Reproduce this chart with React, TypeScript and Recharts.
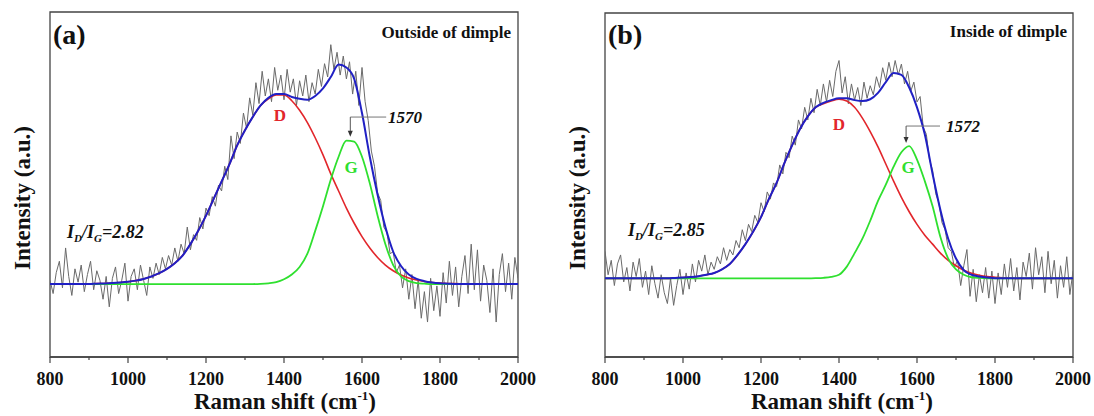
import React from "react";
import { LineChart, Line, XAxis, YAxis, ReferenceArea, ReferenceLine, ReferenceDot } from "recharts";

const SERIF = "'Liberation Serif', 'Times New Roman', serif";

// x grids (cm-1): raw spectra every 8, fitted curves every 20
const X_START = 800;
const RAW_STEP = 8;
const FIT_STEP = 20;
const MAJOR_TICKS = [800, 1000, 1200, 1400, 1600, 1800, 2000];
const ALL_TICKS = [800, 900, 1000, 1100, 1200, 1300, 1400, 1500, 1600, 1700, 1800, 1900, 2000];

// (a) outside of dimple, measured spectrum
const rawA = [
  0.02, -0.05, 0.06, 0.12, -0.02, 0.19, 0.04, -0.06, 0.08, 0.01,
  0.10, -0.04, 0.05, 0.12, -0.03, 0.07, 0.02, -0.08, 0.04, -0.12,
  0.03, 0.09, -0.05, 0.02, 0.11, -0.09, 0.04, 0.08, -0.03, 0.10,
  0.02, -0.06, 0.09, 0.03, 0.11, 0.05, 0.14, 0.08, 0.15, 0.10,
  0.19, 0.12, 0.21, 0.16, 0.30, 0.18, 0.26, 0.23, 0.35, 0.29,
  0.40, 0.36, 0.46, 0.41, 0.52, 0.49, 0.62, 0.55, 0.78, 0.66,
  0.80, 0.74, 0.90, 0.82, 0.98, 0.89, 1.06, 0.95, 1.12, 0.99,
  1.08, 0.96, 1.14, 1.02, 1.10, 0.97, 1.13, 1.01, 1.08, 0.94,
  1.07, 0.99, 1.10, 0.96, 1.06, 1.00, 1.13, 1.04, 1.16, 1.09,
  1.26, 1.13, 1.22, 1.10, 1.20, 1.08, 1.17, 1.00, 1.12, 0.94,
  1.14, 0.96, 0.86, 0.70, 0.62, 0.48, 0.44, 0.30, 0.27, 0.16,
  0.17, 0.06, 0.10, -0.02, 0.08, -0.08, 0.05, -0.13, 0.02, -0.18,
  -0.04, -0.20, 0.03, -0.14, -0.01, -0.17, 0.06, -0.10, 0.12, -0.06,
  0.09, -0.12, 0.04, 0.15, -0.05, 0.21, -0.03, 0.18, -0.09, 0.10,
  0.02, -0.15, 0.08, -0.20, 0.05, 0.16, -0.04, 0.11, -0.08, 0.14,
  0.03,
];
const dBandA = [
  0, 0, 0, 0, 0, 0, 0.002, 0.003, 0.005, 0.008,
  0.012, 0.018, 0.027, 0.04, 0.057, 0.08, 0.11, 0.15, 0.21, 0.28,
  0.36, 0.45, 0.54, 0.63, 0.73, 0.81, 0.88, 0.94, 0.975, 0.995,
  0.995, 0.965, 0.915, 0.85, 0.77, 0.68, 0.58, 0.49, 0.4, 0.32,
  0.25, 0.19, 0.14, 0.1, 0.07, 0.048, 0.032, 0.021, 0.013, 0.008,
  0.005, 0.003, 0.002, 0.001, 0, 0, 0, 0, 0, 0,
  0,
];
const gBandA = [
  0, 0, 0, 0, 0, 0, 0, 0, 0, 0,
  0, 0, 0, 0, 0, 0, 0, 0, 0, 0,
  0, 0, 0, 0, 0, 0, 0, 0.001, 0.004, 0.01,
  0.025, 0.05, 0.09, 0.16, 0.28, 0.41, 0.55, 0.67, 0.755, 0.75,
  0.67, 0.53, 0.36, 0.21, 0.1, 0.04, 0.015, 0.005, 0.002, 0,
  0, 0, 0, 0, 0, 0, 0, 0, 0, 0,
  0,
];
const fitA = [
  0, 0, 0, 0, 0, 0, 0.002, 0.003, 0.005, 0.008,
  0.012, 0.018, 0.027, 0.04, 0.057, 0.08, 0.11, 0.15, 0.21, 0.28,
  0.36, 0.45, 0.54, 0.63, 0.73, 0.81, 0.88, 0.94, 0.98, 1.0,
  1.0, 0.985, 0.975, 0.97, 0.99, 1.03, 1.09, 1.155, 1.14, 1.08,
  0.9, 0.67, 0.47, 0.3, 0.17, 0.095, 0.05, 0.027, 0.015, 0.008,
  0.004, 0.002, 0, 0, 0, 0, 0, 0, 0, 0,
  0,
];

// (b) inside of dimple
const rawB = [
  0.15, 0.02, 0.10, -0.04, 0.08, 0.13, -0.02, 0.06, -0.07, 0.09,
  0.01, 0.11, -0.05, 0.04, -0.09, 0.07, -0.03, -0.11, 0.02, -0.08,
  -0.14, 0.00, -0.15, -0.04, 0.05, -0.09, 0.03, -0.06, 0.08, -0.02,
  0.10, 0.04, 0.13, 0.02, 0.09, 0.05, 0.12, 0.08, 0.17, 0.10,
  0.16, 0.13, 0.21, 0.17, 0.27, 0.21, 0.30, 0.26, 0.35, 0.31,
  0.42, 0.37, 0.48, 0.44, 0.53, 0.51, 0.63, 0.58, 0.70, 0.67,
  0.79, 0.74, 0.88, 0.83, 0.95, 0.88, 1.00, 0.92, 1.05, 0.96,
  1.08, 0.98, 1.10, 1.01, 1.15, 1.21, 1.03, 1.12, 0.97, 1.08,
  0.99, 1.06, 0.96, 1.09, 1.00, 1.07, 1.02, 1.12, 1.06, 1.17,
  1.10, 1.20, 1.12, 1.21, 1.13, 1.19, 1.08, 1.15, 1.04, 1.09,
  0.98, 1.01, 0.84, 0.80, 0.66, 0.60, 0.47, 0.42, 0.31, 0.27,
  0.17, 0.15, 0.06, 0.10, -0.04, 0.07, 0.16, -0.10, 0.05, -0.13,
  0.02, -0.08, 0.06, -0.11, 0.04, -0.14, 0.03, -0.09, 0.08, -0.05,
  0.11, -0.07, 0.06, -0.12, 0.09, 0.01, 0.14, -0.06, 0.17, 0.02,
  0.12, -0.08, 0.15, -0.03, 0.10, -0.11, 0.07, -0.05, 0.12, -0.09,
  0.04,
];
const dBandB = [
  0, 0, 0, 0, 0, 0, 0, 0, 0, 0.002,
  0.004, 0.007, 0.012, 0.02, 0.03, 0.05, 0.08, 0.13, 0.19, 0.26,
  0.34, 0.44, 0.53, 0.64, 0.74, 0.83, 0.9, 0.95, 0.97, 0.985,
  0.995, 0.985, 0.95, 0.89, 0.815, 0.73, 0.635, 0.54, 0.45, 0.37,
  0.3, 0.24, 0.19, 0.14, 0.1, 0.07, 0.045, 0.028, 0.017, 0.01,
  0.006, 0.003, 0.001, 0, 0, 0, 0, 0, 0, 0,
  0,
];
const gBandB = [
  0, 0, 0, 0, 0, 0, 0, 0, 0, 0,
  0, 0, 0, 0, 0, 0, 0, 0, 0, 0,
  0, 0, 0, 0, 0, 0, 0, 0.001, 0.003, 0.008,
  0.02, 0.065, 0.14, 0.22, 0.32, 0.43, 0.52, 0.62, 0.7, 0.735,
  0.66, 0.54, 0.4, 0.23, 0.11, 0.05, 0.02, 0.006, 0.002, 0,
  0, 0, 0, 0, 0, 0, 0, 0, 0, 0,
  0,
];
const fitB = [
  0, 0, 0, 0, 0, 0, 0, 0, 0, 0.002,
  0.004, 0.007, 0.012, 0.02, 0.03, 0.05, 0.08, 0.13, 0.19, 0.26,
  0.34, 0.44, 0.53, 0.64, 0.74, 0.83, 0.9, 0.95, 0.975, 0.99,
  1.0, 1.0, 0.99, 0.985, 0.995, 1.03, 1.09, 1.14, 1.13, 1.06,
  0.95, 0.8, 0.58, 0.38, 0.22, 0.11, 0.045, 0.02, 0.01, 0.004,
  0.001, 0, 0, 0, 0, 0, 0, 0, 0, 0,
  0,
];

const toPoints = (vals: number[], step: number) =>
  vals.map((y, i) => ({ x: X_START + i * step, y }));

const AxisTick = (props: any) => {
  const { x, y, payload } = props;
  const major = payload.value % 200 === 0;
  return (
    <g>
      <line x1={x} y1={y} x2={x} y2={y + (major ? 6 : 3)} stroke="#444" strokeWidth={1.2} />
      {major && (
        <text x={x} y={y + 28} textAnchor="middle" fontFamily={SERIF} fontWeight={700} fontSize={18} fill="#111">
          {payload.value}
        </text>
      )}
    </g>
  );
};

type PanelProps = {
  left: number;
  width: number;
  marginLeft: number;
  marginRight: number;
  marginTop: number;
  yDomain: [number, number];
  raw: number[];
  d: number[];
  g: number[];
  fit: number[];
  peak: number;
  leaderY: number;
  tipY: number;
  leaderEnd: number;
};

function Panel(p: PanelProps) {
  const rawPts = toPoints(p.raw, RAW_STEP);
  const dPts = toPoints(p.d, FIT_STEP);
  const gPts = toPoints(p.g, FIT_STEP);
  const fitPts = toPoints(p.fit, FIT_STEP);
  return (
    <div style={{ position: "absolute", left: p.left, top: 0 }}>
      <LineChart
        width={p.width}
        height={416}
        margin={{ top: p.marginTop, right: p.marginRight, bottom: 0, left: p.marginLeft }}
      >
        <XAxis
          type="number"
          dataKey="x"
          domain={[800, 2000]}
          ticks={ALL_TICKS}
          interval={0}
          height={59}
          tickLine={false}
          tickSize={0}
          tickMargin={0}
          tick={<AxisTick />}
          axisLine={{ stroke: "#444", strokeWidth: 1.3 }}
          allowDataOverflow
        />
        <YAxis type="number" domain={p.yDomain} hide allowDataOverflow />
        <ReferenceArea
          x1={800}
          x2={2000}
          y1={p.yDomain[0]}
          y2={p.yDomain[1]}
          fill="none"
          stroke="#444"
          strokeWidth={1.3}
          ifOverflow="visible"
        />
        <Line data={rawPts} dataKey="y" type="linear" stroke="#6a6a6a" strokeWidth={1} dot={false} isAnimationActive={false} />
        <Line data={dPts} dataKey="y" type="monotone" stroke="#e2262b" strokeWidth={1.6} dot={false} isAnimationActive={false} />
        <Line data={gPts} dataKey="y" type="monotone" stroke="#2fe02f" strokeWidth={1.8} dot={false} isAnimationActive={false} />
        <Line data={fitPts} dataKey="y" type="monotone" stroke="#2020c4" strokeWidth={2} dot={false} isAnimationActive={false} />
        <ReferenceLine
          segment={[{ x: p.peak, y: p.leaderY }, { x: p.leaderEnd, y: p.leaderY }]}
          stroke="#777"
          strokeWidth={1}
        />
        <ReferenceLine
          segment={[{ x: p.peak, y: p.leaderY }, { x: p.peak, y: p.tipY + 0.02 }]}
          stroke="#555"
          strokeWidth={1}
        />
        <ReferenceDot
          x={p.peak}
          y={p.tipY}
          r={3}
          shape={(s: any) => (
            <polygon points={`${s.cx - 2.5},${s.cy - 6} ${s.cx + 2.5},${s.cy - 6} ${s.cx},${s.cy}`} fill="#333" />
          )}
        />
      </LineChart>
    </div>
  );
}

const ratioText = (x: number, y: number, value: string) => (
  <text x={x} y={y} fontFamily={SERIF} fontWeight={700} fontStyle="italic" fontSize={18} fill="#111">
    <tspan>I</tspan>
    <tspan dy={4} fontSize={11}>D</tspan>
    <tspan dy={-4}>/I</tspan>
    <tspan dy={4} fontSize={11}>G</tspan>
    <tspan dy={-4}>{"=" + value}</tspan>
  </text>
);

const axisTitle = (cx: number) => (
  <text x={cx} y={409} textAnchor="middle" fontFamily={SERIF} fontWeight={700} fontSize={23} fill="#111">
    <tspan>Raman shift (cm</tspan>
    <tspan dy={-9} fontSize={13}>-1</tspan>
    <tspan dy={9}>)</tspan>
  </text>
);

const yTitle = (x: number) => (
  <text
    x={x}
    y={198}
    transform={`rotate(-90 ${x} 198)`}
    textAnchor="middle"
    fontFamily={SERIF}
    fontWeight={700}
    fontSize={23}
    fill="#111"
  >
    Intensity (a.u.)
  </text>
);

export default function App() {
  const bold = { fontFamily: SERIF, fontWeight: 700, fill: "#111" } as const;
  return (
    <div style={{ position: "absolute", left: 0, top: 0, width: 1094, height: 416, background: "#fff" }}>
      <Panel
        left={0}
        width={540}
        marginLeft={50}
        marginRight={22}
        marginTop={12}
        yDomain={[-0.384, 1.432]}
        raw={rawA}
        d={dBandA}
        g={gBandA}
        fit={fitA}
        peak={1570}
        leaderY={0.879}
        tipY={0.775}
        leaderEnd={1662}
      />
      <Panel
        left={540}
        width={554}
        marginLeft={65}
        marginRight={21}
        marginTop={13}
        yDomain={[-0.437, 1.474]}
        raw={rawB}
        d={dBandB}
        g={gBandB}
        fit={fitB}
        peak={1572}
        leaderY={0.846}
        tipY={0.752}
        leaderEnd={1659}
      />
      <svg width={1094} height={416} style={{ position: "absolute", left: 0, top: 0, pointerEvents: "none" }}>
        <text x={53} y={44} fontSize={28} {...bold}>(a)</text>
        <text x={511} y={38} fontSize={17} textAnchor="end" {...bold}>Outside of dimple</text>
        <text x={388} y={123} fontSize={17} fontStyle="italic" {...bold}>1570</text>
        <text x={280} y={121} fontSize={17} textAnchor="middle" fontFamily={SERIF} fontWeight={700} fill="#e2262b">D</text>
        <text x={351} y={173} fontSize={17} textAnchor="middle" fontFamily={SERIF} fontWeight={700} fill="#2fe02f">G</text>
        {ratioText(67, 238, "2.82")}
        {axisTitle(285)}
        {yTitle(30)}

        <text x={608} y={44} fontSize={28} {...bold}>(b)</text>
        <text x={1067} y={37} fontSize={17} textAnchor="end" {...bold}>Inside of dimple</text>
        <text x={946} y={132} fontSize={17} fontStyle="italic" {...bold}>1572</text>
        <text x={839} y={130} fontSize={17} textAnchor="middle" fontFamily={SERIF} fontWeight={700} fill="#e2262b">D</text>
        <text x={908} y={173} fontSize={17} textAnchor="middle" fontFamily={SERIF} fontWeight={700} fill="#2fe02f">G</text>
        {ratioText(628, 236, "2.85")}
        {axisTitle(842)}
        {yTitle(585)}
      </svg>
    </div>
  );
}
